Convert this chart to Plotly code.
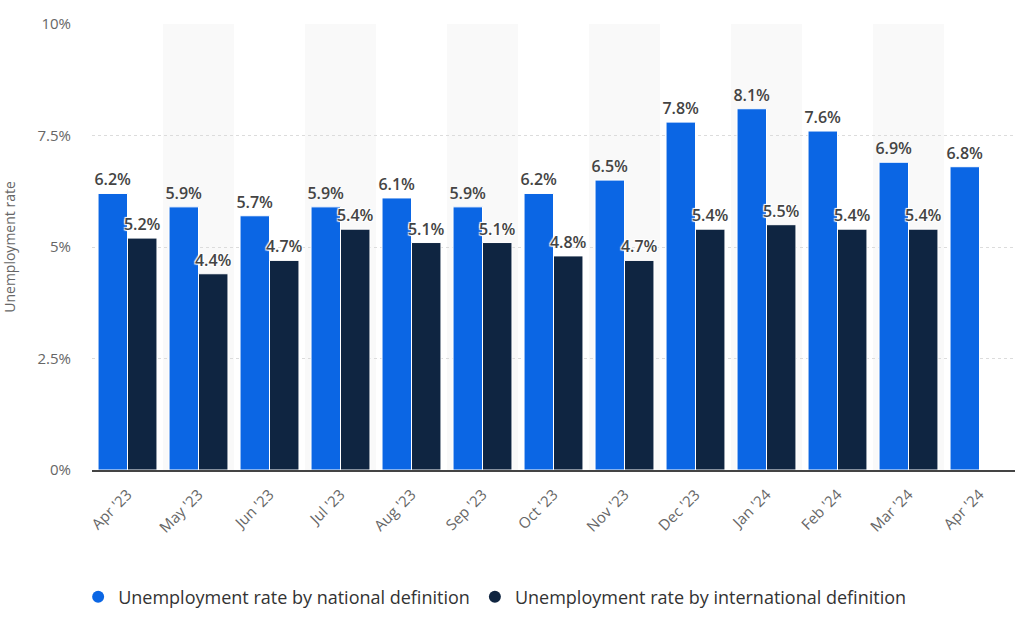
import plotly.graph_objects as go

months = ["Apr '23", "May '23", "Jun '23", "Jul '23", "Aug '23", "Sep '23", "Oct '23",
          "Nov '23", "Dec '23", "Jan '24", "Feb '24", "Mar '24", "Apr '24"]
national = [6.2, 5.9, 5.7, 5.9, 6.1, 5.9, 6.2, 6.5, 7.8, 8.1, 7.6, 6.9, 6.8]
international = [5.2, 4.4, 4.7, 5.4, 5.1, 5.1, 4.8, 4.7, 5.4, 5.5, 5.4, 5.4, None]
y_ticks = [0, 2.5, 5, 7.5, 10]
y_tick_labels = ["0%", "2.5%", "5%", "7.5%", "10%"]

BLUE = "#0b66e4"
DARK = "#0f2541"
FONT = "Open Sans"

fig = go.Figure()

def fmt(v):
    return "" if v is None else f"{v}%"

fig.add_trace(go.Bar(
    x=months, y=national, name="Unemployment rate by national definition",
    marker=dict(color=BLUE, line=dict(color="white", width=1)),
    text=[fmt(v) for v in national], textposition="outside", cliponaxis=False,
    constraintext="none",
    textfont=dict(family=FONT, size=16, color="#444444", weight=600),
    showlegend=False,
))
fig.add_trace(go.Bar(
    x=months, y=international, name="Unemployment rate by international definition",
    marker=dict(color=DARK, line=dict(color="white", width=1)),
    text=[fmt(v) for v in international], textposition="outside", cliponaxis=False,
    constraintext="none",
    textfont=dict(family=FONT, size=16, color="#444444", weight=600,
                  shadow="1px 1px 1px white, -1px -1px 1px white, 1px -1px 1px white, -1px 1px 1px white"),
    showlegend=False,
))
# legend entries with circle symbols
for name, col in [("Unemployment rate by national definition", BLUE),
                  ("Unemployment rate by international definition", DARK)]:
    fig.add_trace(go.Scatter(x=[None], y=[None], mode="markers", name=name,
                             marker=dict(symbol="circle", size=17, color=col)))

# alternating background bands
shapes = []
for i, m in enumerate(months):
    if i % 2 == 1:
        shapes.append(dict(type="rect", xref="x", yref="paper", x0=i - 0.5, x1=i + 0.5,
                           y0=0, y1=1, fillcolor="#f9f9f9", line=dict(width=0), layer="below"))

fig.update_layout(
    width=1024, height=627,
    margin=dict(l=92, r=9, t=24, b=157),
    paper_bgcolor="white", plot_bgcolor="white",
    barmode="group", bargap=0.17, bargroupgap=0.0,
    shapes=shapes,
    font=dict(family=FONT, color="#666666"),
    legend=dict(orientation="h", x=-0.015, xanchor="left", y=-0.285, yanchor="middle",
                font=dict(family=FONT, size=18, color="#333333"),
                itemsizing="constant", traceorder="normal"),
    xaxis=dict(type="category", tickangle=-45, tickfont=dict(size=15, color="#666666"),
               showline=True, linecolor="#444444", linewidth=2, ticks="",
               ticklabelstandoff=8,
               showgrid=False, range=[-0.5, len(months) - 0.5]),
    yaxis=dict(range=[0, 10], tickvals=y_ticks, ticktext=y_tick_labels,
               tickfont=dict(size=15, color="#666666"),
               showgrid=True, gridcolor="#dcdcdc", griddash="dot", gridwidth=1,
               zeroline=False, ticks="", ticklabelstandoff=20,
               title=dict(text="Unemployment rate", font=dict(size=14, color="#666666"), standoff=18)),
)

fig.write_html("out.html")
